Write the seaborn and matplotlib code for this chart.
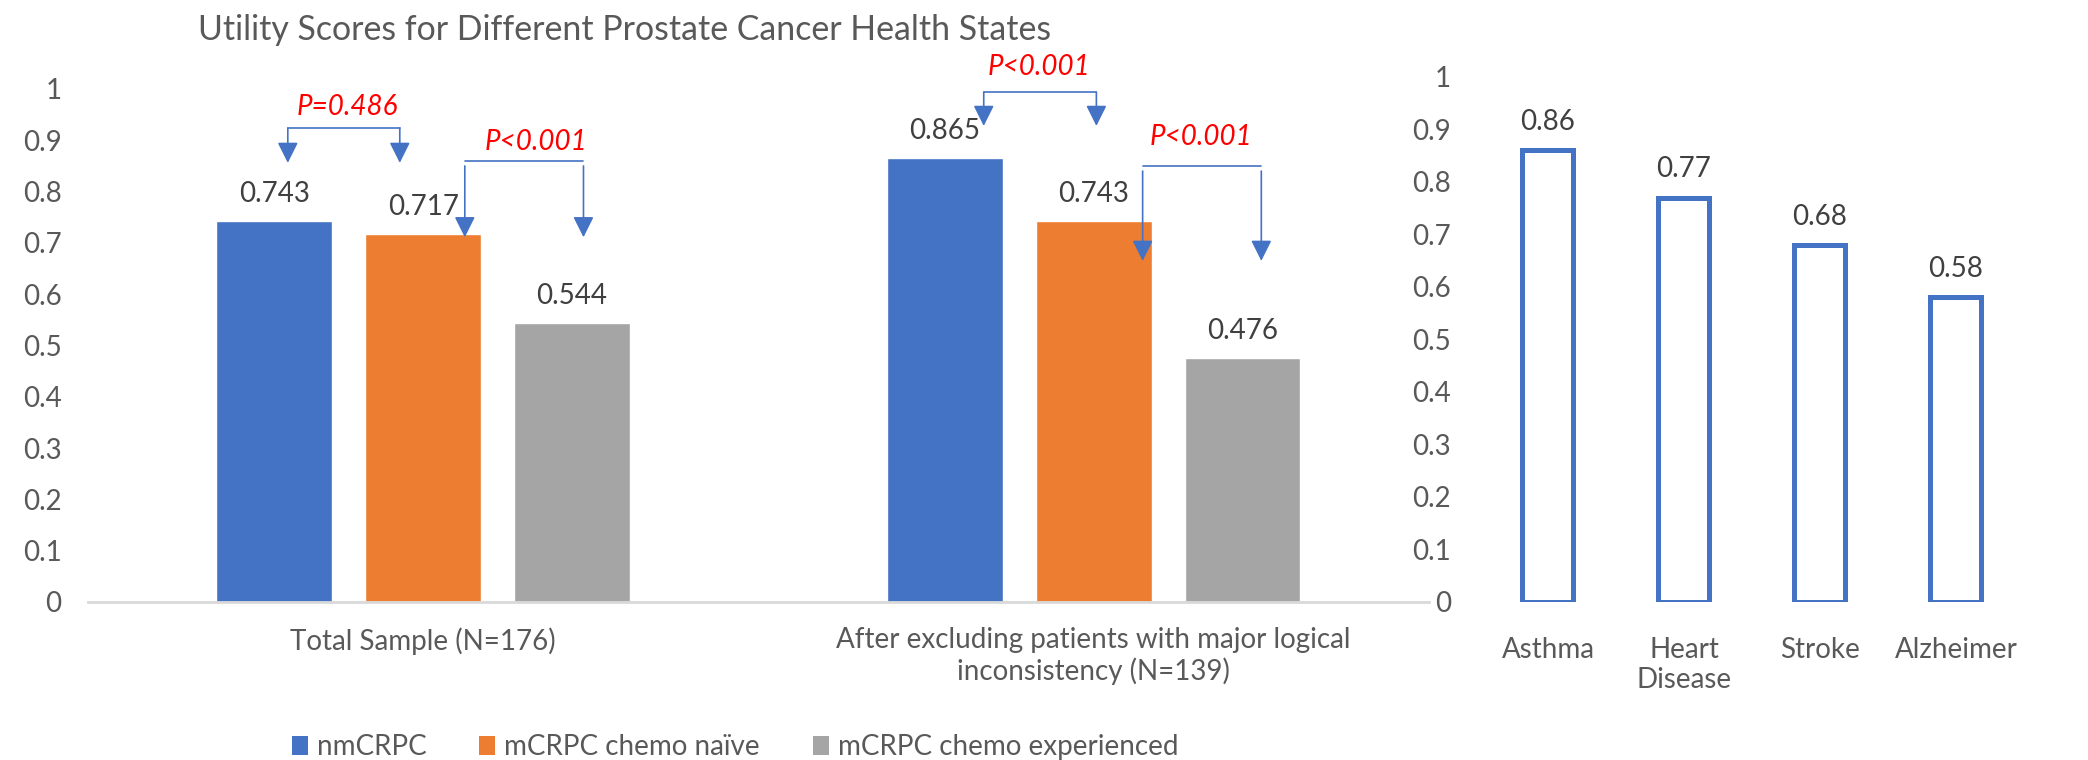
import matplotlib
matplotlib.use('Agg')
import matplotlib.pyplot as plt
from matplotlib.patches import Patch
import seaborn as sns
import pandas as pd

# data
groups = ['Total Sample (N=176)',
          'After excluding patients with major logical\ninconsistency (N=139)']
states = ['nmCRPC', 'mCRPC chemo naïve', 'mCRPC chemo experienced']
total_sample = [0.743, 0.717, 0.544]
after_excluding = [0.865, 0.743, 0.476]

diseases = ['Asthma', 'Heart\nDisease', 'Stroke', 'Alzheimer']
disease_scores = [0.86, 0.77, 0.68, 0.58]

p_labels = ['P=0.486', 'P<0.001', 'P<0.001', 'P<0.001']

y_ticks = [0, 0.1, 0.2, 0.3, 0.4, 0.5, 0.6, 0.7, 0.8, 0.9, 1]
y_tick_labels = ['0', '0.1', '0.2', '0.3', '0.4', '0.5', '0.6', '0.7', '0.8', '0.9', '1']

palette = ['#4472C4', '#ED7D31', '#A5A5A5']
TICK_COL = '#595959'
LABEL_COL = '#404040'
FS = 20

sns.set_style('white')
plt.rcParams['font.family'] = ['Lato', 'DejaVu Sans']

df = pd.DataFrame({
    'group': [groups[0]] * 3 + [groups[1]] * 3,
    'state': states * 2,
    'score': total_sample + after_excluding,
})

fig = plt.figure(figsize=(20.88, 7.6), dpi=100)
ax = fig.add_axes([0.04215, 0.2079, 0.6422, 0.675])
ax2 = fig.add_axes([0.7088, 0.2079, 0.2605, 0.6908])

# ---- left panel: grouped bars
sns.barplot(data=df, x='group', y='score', hue='state', palette=palette,
            width=0.666, gap=0.222, saturation=1, ax=ax, legend=False)
for cont in ax.containers:
    ax.bar_label(cont, fmt='%.3f', padding=10, fontsize=FS, color=LABEL_COL)

ax.set_xlim(-0.5, 1.5)
ax.set_ylim(0, 1)
ax.set_yticks(y_ticks)
ax.set_yticklabels(y_tick_labels)
ax.set_xlabel('')
ax.set_ylabel('')
ax.tick_params(axis='y', length=0, pad=19, labelsize=FS, labelcolor=TICK_COL)
ax.tick_params(axis='x', length=0, pad=18, labelsize=FS, labelcolor=TICK_COL)
for s in ['top', 'right', 'left']:
    ax.spines[s].set_visible(False)
ax.spines['bottom'].set_color('#D9D9D9')
ax.spines['bottom'].set_linewidth(2)

# significance brackets: x_left, x_right, y_bar, y_start, y_tip, x_text, y_text
brackets = [
    (-0.202, -0.035, 0.924, 0.924, 0.856, -0.113, 0.965),
    (0.062, 0.239, 0.860, 0.850, 0.711, 0.168, 0.897),
    (0.836, 1.004, 0.994, 0.994, 0.928, 0.918, 1.043),
    (1.073, 1.250, 0.850, 0.840, 0.665, 1.160, 0.906),
]
blue = palette[0]
for (xl, xr, yb, ys, yt, xt, ytx), lab in zip(brackets, p_labels):
    ax.plot([xl, xr], [yb, yb], color=blue, lw=1.2, clip_on=False)
    for xx in (xl, xr):
        ax.annotate('', xy=(xx, yt), xytext=(xx, ys),
                    arrowprops=dict(arrowstyle='-|>,head_length=0.7,head_width=0.35',
                                    color=blue, lw=1.2, shrinkA=0, shrinkB=0,
                                    mutation_scale=18),
                    annotation_clip=False)
    ax.text(xt, ytx, lab, color='#FF0000', fontsize=FS, style='italic',
            ha='center', va='center', clip_on=False)

# ---- right panel: outlined bars
sns.barplot(x=diseases, y=disease_scores, color='white', edgecolor=blue,
            linewidth=3.6, width=0.375, saturation=1, ax=ax2)
ax2.bar_label(ax2.containers[0], fmt='%.2f', padding=11, fontsize=FS, color=LABEL_COL)
ax2.set_xlim(-0.5, 3.5)
ax2.set_ylim(0, 1)
ax2.set_yticks(y_ticks)
ax2.set_yticklabels(y_tick_labels)
ax2.tick_params(axis='y', length=0, pad=21, labelsize=FS, labelcolor=TICK_COL)
ax2.tick_params(axis='x', length=0, pad=25, labelsize=FS, labelcolor=TICK_COL)
for s in ax2.spines.values():
    s.set_visible(False)

fig.text(0.299, 0.96, 'Utility Scores for Different Prostate Cancer Health States',
         fontsize=24.4, color=TICK_COL, ha='center', va='center')

handles = [Patch(facecolor=c, edgecolor='none', label=s) for c, s in zip(palette, states)]
fig.legend(handles=handles, loc='center', bbox_to_anchor=(0.352, 0.017), ncol=3,
           frameon=False, fontsize=FS, handlelength=0.58, handleheight=0.65,
           handletextpad=0.32, columnspacing=1.9, labelcolor=TICK_COL)

fig.savefig('out.png', dpi=100)
